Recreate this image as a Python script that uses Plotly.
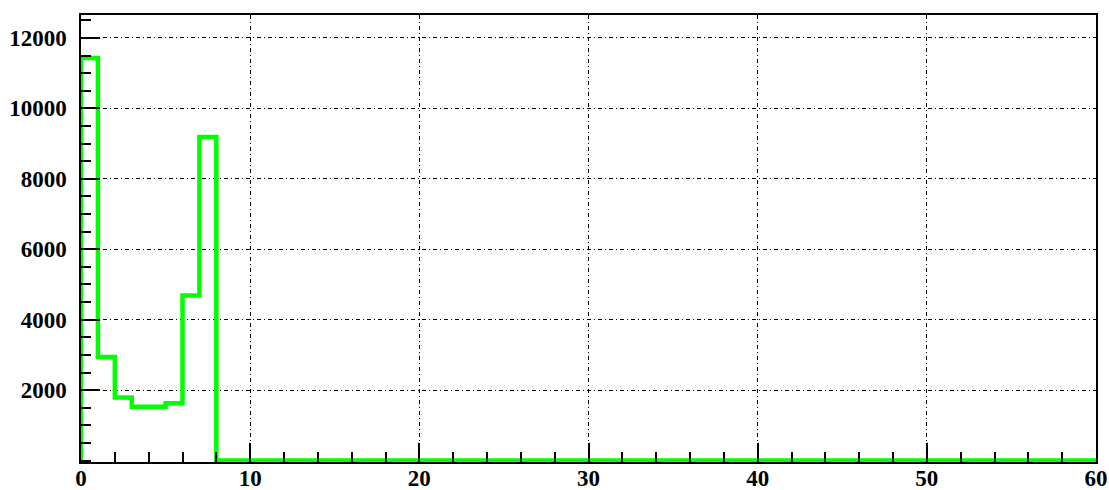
import plotly.graph_objects as go

# Histogram bin edges (width 1, 0..60) and bin contents
bin_edges = list(range(0, 61))
counts = [11430, 2940, 1790, 1530, 1530, 1630, 4690, 9190] + [0] * 52

y_ticks = [2000, 4000, 6000, 8000, 10000, 12000]
x_ticks = [0, 10, 20, 30, 40, 50, 60]

xs = [bin_edges[0]] + bin_edges
ys = [0] + counts + [counts[-1]]

fig = go.Figure()
fig.add_trace(go.Scatter(
    x=xs, y=ys, mode="lines", line=dict(color="#00FF00", width=4.5, shape="hv"),
    showlegend=False, hoverinfo="skip",
))

tickfont = dict(family="Liberation Serif", size=23, color="black", weight="bold")

fig.update_layout(
    width=1109, height=490,
    margin=dict(l=81, r=13, t=15, b=28),
    paper_bgcolor="white", plot_bgcolor="white",
    xaxis=dict(
        range=[0, 60], tickvals=x_ticks, ticktext=[str(v) for v in x_ticks],
        ticks="inside", ticklen=19, tickwidth=1.5, tickcolor="black",
        showline=True, linecolor="black", linewidth=1.5, mirror=True,
        showgrid=True, gridcolor="black", gridwidth=1, griddash="4px,3px,1px,3px",
        zeroline=False, tickfont=tickfont, ticklabelstandoff=-5, automargin=False,
        minor=dict(dtick=2, tick0=0, ticks="inside", ticklen=10, tickcolor="black",
                   tickwidth=1.5, showgrid=False),
    ),
    yaxis=dict(
        range=[-40, 12650], tickvals=y_ticks, ticktext=[str(v) for v in y_ticks],
        ticks="inside", ticklen=19, tickwidth=1.5, tickcolor="black",
        showline=True, linecolor="black", linewidth=1.5, mirror=True,
        showgrid=True, gridcolor="black", gridwidth=1, griddash="4px,3px,1px,3px",
        zeroline=False, tickfont=tickfont, ticklabelstandoff=8, automargin=False,
        minor=dict(dtick=500, tick0=0, ticks="inside", ticklen=10, tickcolor="black",
                   tickwidth=1.5, showgrid=False),
    ),
)

fig.write_html(
    "out.html",
    config={"displayModeBar": False},
    post_script="document.body.style.margin='0';document.body.style.overflow='hidden';",
)
